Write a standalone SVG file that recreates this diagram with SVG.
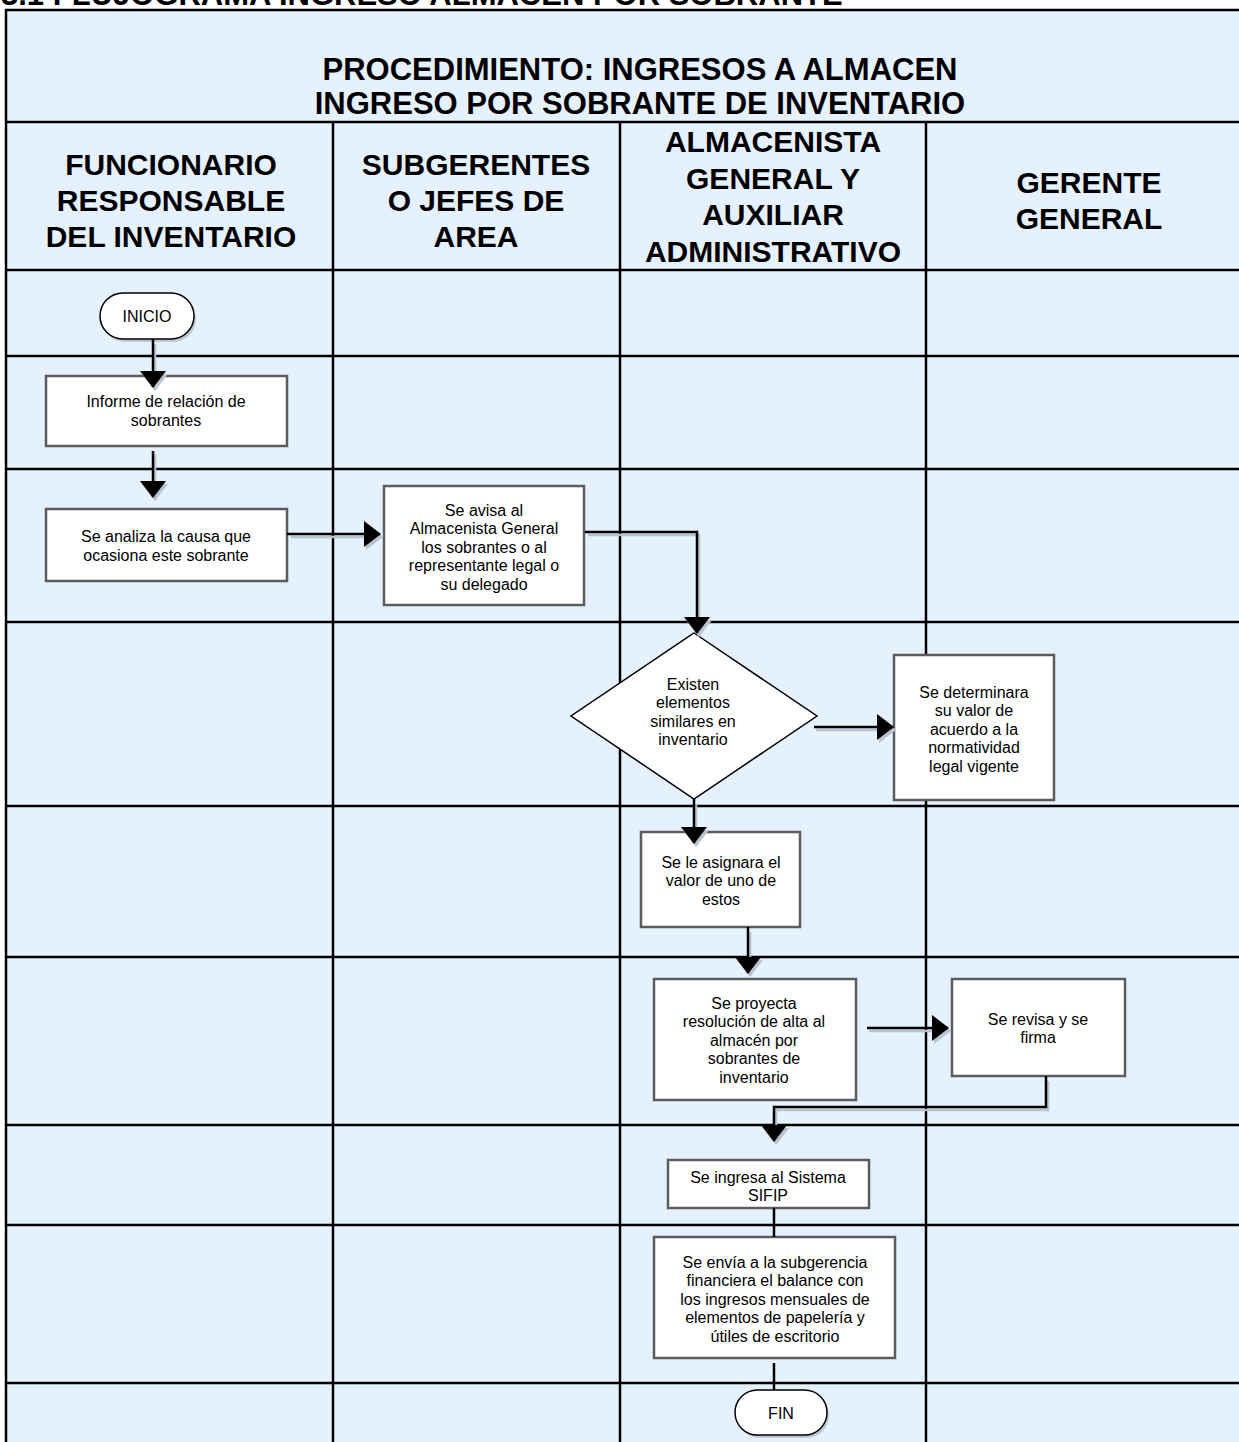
<svg xmlns="http://www.w3.org/2000/svg" width="1239" height="1442" viewBox="0 0 1239 1442">
  <style>
    .lane { fill: #E5F1FF; stroke: #000; stroke-width: 2.5; }
    .grid { stroke: #000; stroke-width: 2.5; fill: none; }
    .title { font-family: "Liberation Sans", Arial, sans-serif; font-weight: bold; font-size: 31px; fill: #000; text-anchor: middle; }
    .caption { font-family: "Liberation Sans", Arial, sans-serif; font-weight: bold; font-size: 31px; fill: #000; }
    .head { font-family: "Liberation Sans", Arial, sans-serif; font-weight: bold; font-size: 30px; fill: #000; text-anchor: middle; }
    .box { fill: #fff; stroke: #5c5c5c; stroke-width: 2.5; }
    .term { fill: #fff; stroke: #000; stroke-width: 1.5; }
    .shade { fill: #bfc8d2; stroke: none; }
    .lbl { font-family: "Liberation Sans", Arial, sans-serif; font-size: 16px; fill: #000; text-anchor: middle; }
    .conn { stroke: #000; stroke-width: 2.5; fill: none; }
    .conn-shadow { stroke: #b9c3ce; stroke-width: 2.5; fill: none; }
  </style>
  <defs>
    <marker id="arrow" viewBox="0 0 17 26" refX="16" refY="13" markerWidth="17" markerHeight="26" markerUnits="userSpaceOnUse" orient="auto">
      <path d="M0,0 L17,13 L0,26 Z" fill="#000"/>
    </marker>
    <marker id="arrow-shadow" viewBox="0 0 17 26" refX="16" refY="13" markerWidth="17" markerHeight="26" markerUnits="userSpaceOnUse" orient="auto">
      <path d="M0,0 L17,13 L0,26 Z" fill="#b9c3ce"/>
    </marker>
  </defs>

  <rect width="1239" height="1442" fill="#fff"/>

  <!-- page caption (partly above the sheet edge) -->
  <text class="caption" x="1" y="5">3.1 FLUJOGRAMA INGRESO ALMACEN POR SOBRANTE</text>

  <!-- swimlane sheet -->
  <g id="sheet">
    <rect class="lane" x="6" y="10" width="1248" height="1460"/>
    <path class="grid" d="M6,122 H1254 M6,270 H1254 M6,356 H1254 M6,469 H1254 M6,622 H1254 M6,806 H1254 M6,957 H1254 M6,1125 H1254 M6,1225 H1254 M6,1383 H1254 M333,122 V1470 M620,122 V1470 M926,122 V1470"/>
    <text class="title" x="640" y="80">PROCEDIMIENTO: INGRESOS A ALMACEN</text>
    <text class="title" x="640" y="114">INGRESO POR SOBRANTE DE INVENTARIO</text>
    <text class="head" x="171"><tspan x="171" y="175">FUNCIONARIO</tspan><tspan x="171" y="211">RESPONSABLE</tspan><tspan x="171" y="247">DEL INVENTARIO</tspan></text>
    <text class="head" x="476"><tspan x="476" y="175">SUBGERENTES</tspan><tspan x="476" y="211">O JEFES DE</tspan><tspan x="476" y="247">AREA</tspan></text>
    <text class="head" x="773"><tspan x="773" y="152">ALMACENISTA</tspan><tspan x="773" y="189">GENERAL Y</tspan><tspan x="773" y="225">AUXILIAR</tspan><tspan x="773" y="262">ADMINISTRATIVO</tspan></text>
    <text class="head" x="1089"><tspan x="1089" y="193">GERENTE</tspan><tspan x="1089" y="229">GENERAL</tspan></text>
  </g>

  <!-- nodes -->
  <g id="inicio">
    <rect class="shade" x="102" y="296" width="94" height="46" rx="23"/>
    <rect class="term" x="100" y="293" width="94" height="46" rx="23"/>
    <text class="lbl" x="147" y="322">INICIO</text>
  </g>

  <g id="informe">
    <rect class="box" x="46" y="376" width="241" height="70"/>
    <text class="lbl"><tspan x="166" y="407">Informe de relación de</tspan><tspan x="166" y="426">sobrantes</tspan></text>
  </g>

  <g id="analiza">
    <rect class="box" x="46" y="509" width="241" height="72"/>
    <text class="lbl"><tspan x="166" y="542">Se analiza la causa que</tspan><tspan x="166" y="561">ocasiona este sobrante</tspan></text>
  </g>

  <g id="avisa">
    <rect class="box" x="384" y="486" width="200" height="119"/>
    <text class="lbl"><tspan x="484" y="515.5">Se avisa al</tspan><tspan x="484" y="534">Almacenista General</tspan><tspan x="484" y="552.5">los sobrantes o al</tspan><tspan x="484" y="571">representante legal o</tspan><tspan x="484" y="589.5">su delegado</tspan></text>
  </g>

  <g id="existen">
    <polygon class="term" points="694,633 817,716 694,799 571,716"/>
    <text class="lbl"><tspan x="693" y="689.5">Existen</tspan><tspan x="693" y="708">elementos</tspan><tspan x="693" y="726.5">similares en</tspan><tspan x="693" y="745">inventario</tspan></text>
  </g>

  <g id="determinara">
    <rect class="box" x="894" y="655" width="160" height="145"/>
    <text class="lbl"><tspan x="974" y="697.5">Se determinara</tspan><tspan x="974" y="716">su valor de</tspan><tspan x="974" y="734.5">acuerdo a la</tspan><tspan x="974" y="753">normatividad</tspan><tspan x="974" y="771.5">legal vigente</tspan></text>
  </g>

  <g id="asignara">
    <rect class="box" x="641" y="832" width="159" height="95"/>
    <text class="lbl"><tspan x="721" y="867.5">Se le asignara el</tspan><tspan x="721" y="886">valor de uno de</tspan><tspan x="721" y="904.5">estos</tspan></text>
  </g>

  <g id="proyecta">
    <rect class="box" x="654" y="979" width="202" height="121"/>
    <text class="lbl"><tspan x="754" y="1008.5">Se proyecta</tspan><tspan x="754" y="1027">resolución de alta al</tspan><tspan x="754" y="1045.5">almacén por</tspan><tspan x="754" y="1064">sobrantes de</tspan><tspan x="754" y="1082.5">inventario</tspan></text>
  </g>

  <g id="revisa">
    <rect class="box" x="952" y="979" width="173" height="97"/>
    <text class="lbl"><tspan x="1038" y="1024.5">Se revisa y se</tspan><tspan x="1038" y="1043">firma</tspan></text>
  </g>

  <g id="sistema">
    <rect class="box" x="668" y="1160" width="201" height="48"/>
    <text class="lbl"><tspan x="768" y="1182.5">Se ingresa al Sistema</tspan><tspan x="768" y="1201">SIFIP</tspan></text>
  </g>

  <g id="envia">
    <rect class="box" x="654" y="1237" width="241" height="121"/>
    <text class="lbl"><tspan x="775" y="1267.5">Se envía a la subgerencia</tspan><tspan x="775" y="1286">financiera el balance con</tspan><tspan x="775" y="1304.5">los ingresos mensuales de</tspan><tspan x="775" y="1323">elementos de papelería y</tspan><tspan x="775" y="1341.5">útiles de escritorio</tspan></text>
  </g>

  <g id="fin">
    <rect class="shade" x="737" y="1393" width="92" height="45" rx="22.5"/>
    <rect class="term" x="735" y="1390" width="92" height="45" rx="22.5"/>
    <text class="lbl" x="781" y="1418.5">FIN</text>
  </g>

  <!-- connectors, drawn over the nodes so arrowheads overlap box edges -->
  <g id="connectors">
    <g transform="translate(2,3)">
      <path class="conn-shadow" marker-end="url(#arrow-shadow)" d="M153,341 V387"/>
      <path class="conn-shadow" marker-end="url(#arrow-shadow)" d="M153,451 V497"/>
      <path class="conn-shadow" marker-end="url(#arrow-shadow)" d="M289,534 H380"/>
      <path class="conn-shadow" marker-end="url(#arrow-shadow)" d="M586,532 H697 V633"/>
      <path class="conn-shadow" marker-end="url(#arrow-shadow)" d="M814,727 H893"/>
      <path class="conn-shadow" marker-end="url(#arrow-shadow)" d="M694,801 V843"/>
      <path class="conn-shadow" marker-end="url(#arrow-shadow)" d="M748,929 V973"/>
      <path class="conn-shadow" marker-end="url(#arrow-shadow)" d="M867,1028 H948"/>
      <path class="conn-shadow" marker-end="url(#arrow-shadow)" d="M1046,1078 V1107 H774 V1141"/>
    </g>
    <path class="conn" marker-end="url(#arrow)" d="M153,339 V387"/>
    <path class="conn" marker-end="url(#arrow)" d="M153,451 V497"/>
    <path class="conn" marker-end="url(#arrow)" d="M287,534 H380"/>
    <path class="conn" marker-end="url(#arrow)" d="M585,532 H697 V633"/>
    <path class="conn" marker-end="url(#arrow)" d="M814,727 H893"/>
    <path class="conn" marker-end="url(#arrow)" d="M694,799 V843"/>
    <path class="conn" marker-end="url(#arrow)" d="M748,927 V973"/>
    <path class="conn" marker-end="url(#arrow)" d="M867,1028 H948"/>
    <path class="conn" marker-end="url(#arrow)" d="M1046,1076 V1107 H774 V1141"/>
    <path class="conn" d="M774,1208 V1237"/>
    <path class="conn" d="M774,1363 V1390"/>
  </g>
</svg>
